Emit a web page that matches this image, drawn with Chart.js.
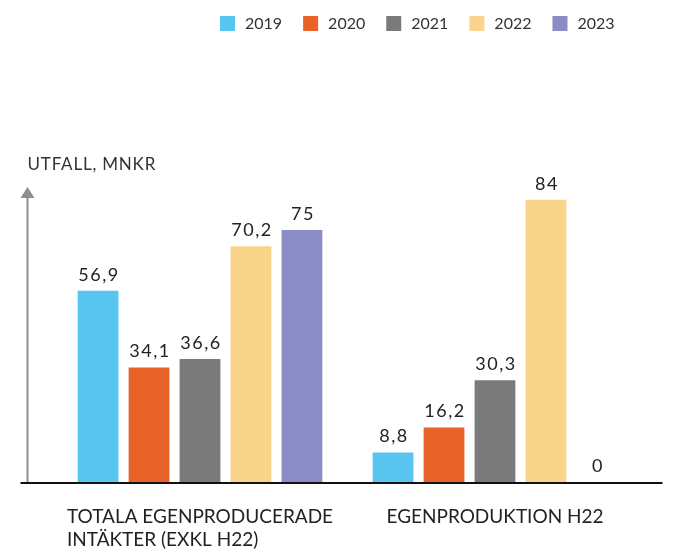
<!DOCTYPE html>
<html>
<head>
<meta charset="utf-8">
<script src="https://cdn.jsdelivr.net/npm/chart.js@4"></script>
<style>
  html, body { margin: 0; padding: 0; background: #fff; }
  #wrap { width: 681px; height: 550px; }
</style>
</head>
<body>
<div id="wrap"><canvas id="c" width="681" height="550"></canvas></div>
<script>
var categories = [
    ["TOTALA EGENPRODUCERADE", "INTÄKTER (EXKL H22)"],
    ["EGENPRODUKTION H22"]
];
var years = ["2019", "2020", "2021", "2022", "2023"];
var v2019 = [56.9, 8.8];
var v2020 = [34.1, 16.2];
var v2021 = [36.6, 30.3];
var v2022 = [70.2, 84];
var v2023 = [75, 0];
var colors = ["#58c5f1", "#e8632a", "#7a7a7a", "#f9d48b", "#8b8bc5"];
var yTitle = "UTFALL, MNKR";

var series = [v2019, v2020, v2021, v2022, v2023];

function fmt(v) {
    return String(v).replace('.', ',');
}

// value labels above the bars
const valuePlugin = {
    id: 'values',
    afterDatasetsDraw: function (chart) {
        const ctx = chart.ctx;
        ctx.save();
        ctx.font = '18px Lato, "Open Sans", sans-serif';
        ctx.fillStyle = '#222';
        ctx.textAlign = 'center';
        ctx.textBaseline = 'bottom';
        if (ctx.letterSpacing !== undefined) ctx.letterSpacing = '1.5px';
        chart.data.datasets.forEach(function (ds, i) {
            const meta = chart.getDatasetMeta(i);
            meta.data.forEach(function (bar, j) {
                ctx.fillText(fmt(ds.data[j]), bar.x + 1, bar.y - 7);
            });
        });
        ctx.restore();
    }
};

// axis arrow, baseline, y title, category labels, legend
const framePlugin = {
    id: 'frame',
    afterDraw: function (chart) {
        const ctx = chart.ctx;
        const area = chart.chartArea;
        const xs = chart.scales.x;
        const ax = area.left - 25;
        ctx.save();

        // vertical arrow
        ctx.strokeStyle = '#8e8e8e';
        ctx.fillStyle = '#8e8e8e';
        ctx.lineWidth = 2;
        ctx.beginPath();
        ctx.moveTo(ax, area.bottom);
        ctx.lineTo(ax, area.top + 50);
        ctx.stroke();
        ctx.beginPath();
        ctx.moveTo(ax, area.top + 41);
        ctx.lineTo(ax - 7, area.top + 52);
        ctx.lineTo(ax + 7, area.top + 52);
        ctx.closePath();
        ctx.fill();

        // baseline
        ctx.strokeStyle = '#111';
        ctx.lineWidth = 2;
        ctx.beginPath();
        ctx.moveTo(ax - 7, area.bottom + 1);
        ctx.lineTo(area.right + 20, area.bottom + 1);
        ctx.stroke();

        // y title
        ctx.font = '17px Lato, "Open Sans", sans-serif';
        if (ctx.letterSpacing !== undefined) ctx.letterSpacing = '0.8px';
        ctx.fillStyle = '#333';
        ctx.textAlign = 'left';
        ctx.textBaseline = 'middle';
        ctx.fillText(yTitle, ax, area.top + 19);
        if (ctx.letterSpacing !== undefined) ctx.letterSpacing = '0px';

        // category labels, lines left aligned inside a centred block
        ctx.font = '19px Lato, "Open Sans", sans-serif';
        ctx.fillStyle = '#222';
        categories.forEach(function (lines, i) {
            const cx = xs.getPixelForValue(i);
            let w = 0;
            lines.forEach(function (l) { w = Math.max(w, ctx.measureText(l).width); });
            lines.forEach(function (l, k) {
                ctx.fillText(l, cx - w / 2, area.bottom + 35 + k * 23);
            });
        });

        // legend
        ctx.font = '16px Lato, "Open Sans", sans-serif';
        ctx.textBaseline = 'middle';
        let lx = 220;
        chart.data.datasets.forEach(function (ds) {
            ctx.fillStyle = ds.backgroundColor;
            ctx.fillRect(lx, 16, 15, 15);
            ctx.fillStyle = '#333';
            ctx.fillText(ds.label, lx + 25, 24);
            lx += 25 + ctx.measureText(ds.label).width + 21;
        });

        ctx.restore();
    }
};

new Chart(document.getElementById('c'), {
    type: 'bar',
    data: {
        labels: categories,
        datasets: years.map(function (y, i) {
            return {
                label: y,
                data: series[i],
                backgroundColor: colors[i],
                categoryPercentage: 0.864,
                barPercentage: 0.8
            };
        })
    },
    options: {
        responsive: false,
        animation: false,
        layout: { padding: { left: 52.5, right: 38.5, top: 146, bottom: 68 } },
        plugins: {
            legend: { display: false },
            tooltip: { enabled: false }
        },
        scales: {
            x: { display: false },
            y: { display: false, min: 0, max: 100 }
        }
    },
    plugins: [valuePlugin, framePlugin]
});
</script>
</body>
</html>
